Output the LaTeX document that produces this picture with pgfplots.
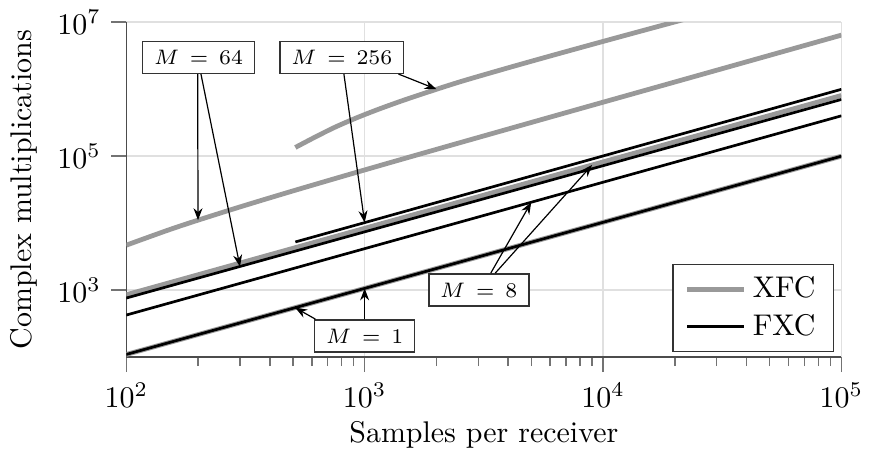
\documentclass[border=0pt]{standalone}
\usepackage{pgfplots}
\pgfplotsset{compat=1.18}
\usetikzlibrary{arrows.meta}

\pgfplotsset{
  xfc/.style={black!40, line width=1.6pt},
  fxc/.style={black, line width=0.9pt},
}
\tikzset{
  mbox/.style={draw=black!80, fill=white, font=\scriptsize, inner xsep=3.8pt,
    inner ysep=2.9pt, text height=4.9pt, text depth=0pt, line width=0.5pt},
  marr/.style={-{Stealth[length=4pt,width=3pt]}, line width=0.4pt, black},
}

\begin{document}
\begin{tikzpicture}
\begin{axis}[
  xmode=log, ymode=log,
  scale only axis,
  width=239pt, height=112pt,
  xmin=100, xmax=100000, ymin=100, ymax=10000000,
  xtick={100,1000,10000,100000},
  ytick={1000,100000,10000000},
  yminorticks=false,
  axis x line*=bottom, axis y line*=left,
  axis line style={black!70, line width=0.5pt},
  tick style={black!55, line width=0.5pt},
  tick align=outside,
  major tick length=5pt, minor tick length=3pt,
  grid=major,
  major grid style={black!12, line width=0.5pt},
  xlabel={Samples per receiver},
  xlabel style={yshift=2pt},
  ylabel={Complex multiplications},
  legend cell align=left,
  legend style={at={(0.99,0.015)}, anchor=south east, draw=black!80,
    line width=0.5pt, font=\normalsize, inner xsep=4pt, inner ysep=2pt,
    row sep=0pt},
  legend image code/.code={\draw[#1] (0cm,0cm) -- (0.67cm,0cm);},
]
% XFC
\addplot[xfc, forget plot] coordinates {(100,110) (1000,1064) (10000,10300) (100000,100000)};
\addplot[xfc, forget plot] coordinates {(100,855) (1000,8375) (10000,82000) (100000,804000)};
\addplot[xfc, forget plot, smooth] coordinates {(100,4700) (150,7900) (200,11100) (300,17500) (500,30300)
  (1000,62300) (2000,126300) (5000,318300) (10000,638300) (100000,6398300)};
\addplot[xfc, forget plot, smooth] coordinates {(512,135000) (619,192300) (750,270000) (926,374000)
  (1155,508000) (1468,690000) (1957,970000) (2610,1341000) (4217,2196000)
  (6813,3540000) (12115,6210000) (23714,11860000)};
% FXC
\addplot[fxc, forget plot] coordinates {(100,110) (1000,1064) (10000,10300) (100000,100000)};
\addplot[fxc, forget plot] coordinates {(100,426) (1000,4170) (10000,40830) (100000,400000)};
\addplot[fxc, forget plot] coordinates {(100,764) (1000,7430) (10000,72100) (100000,702000)};
\addplot[fxc, forget plot] coordinates {(512,5250) (1000,10200) (10000,100700) (100000,995000)};

\addlegendimage{xfc}
\addlegendentry{XFC}
\addlegendimage{fxc}
\addlegendentry{FXC}

% annotations
\node[mbox] (m64) at (axis cs:201,2990000) {$M\,=\,64$};
\node[mbox] (m256) at (axis cs:802,2990000) {$M\,=\,256$};
\node[mbox] (m8) at (axis cs:3013,1013) {$M\,=\,8$};
\node[mbox] (m1) at (axis cs:1000,208) {$M\,=\,1$};

\draw[marr] ([xshift=-0.3pt]m64.south) -- (axis cs:200,11100);
\draw[marr] ([xshift=0.8pt]m64.south) -- (axis cs:300,2240);
\draw[marr] ([xshift=0.7pt]m256.south) -- (axis cs:1000,10200);
\draw[marr] ([xshift=-2pt]m256.south east) -- (axis cs:2000,1000000);
\draw[marr] ([xshift=4pt]m8.north) -- (axis cs:5000,20560);
\draw[marr] ([xshift=5.5pt]m8.north) -- (axis cs:9000,74000);
\draw[marr] (m1.north) -- (axis cs:1000,1064);
\draw[marr] ([xshift=0.5pt]m1.north west) -- (axis cs:511,549);
\end{axis}
\end{tikzpicture}
\end{document}
